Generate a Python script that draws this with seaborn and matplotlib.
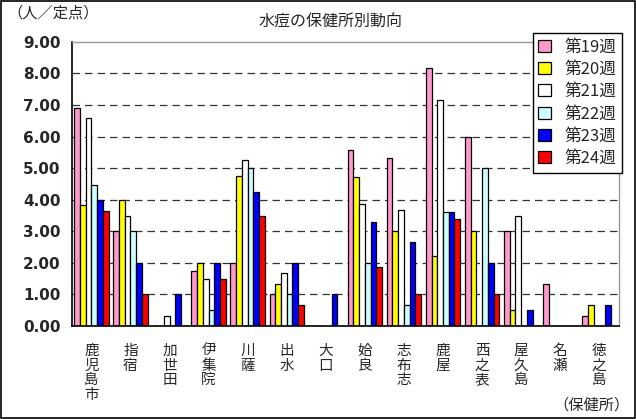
import matplotlib
matplotlib.use('Agg')
import matplotlib.pyplot as plt
import seaborn as sns
import pandas as pd

# data
offices = ['鹿児島市', '指宿', '加世田', '伊集院', '川薩', '出水', '大口',
           '姶良', '志布志', '鹿屋', '西之表', '屋久島', '名瀬', '徳之島']
weeks = ['第19週', '第20週', '第21週', '第22週', '第23週', '第24週']
w19 = [6.90, 3.00, 0.00, 1.75, 2.00, 1.00, 0.00, 5.57, 5.33, 8.17, 6.00, 3.00, 1.33, 0.33]
w20 = [3.83, 4.00, 0.00, 2.00, 4.75, 1.33, 0.00, 4.71, 3.00, 2.22, 3.00, 0.50, 0.00, 0.67]
w21 = [6.60, 3.50, 0.33, 1.50, 5.25, 1.67, 0.00, 3.86, 3.67, 7.17, 0.00, 3.50, 0.00, 0.00]
w22 = [4.47, 3.00, 0.00, 0.50, 5.00, 1.00, 0.00, 2.00, 0.67, 3.61, 5.00, 0.00, 0.00, 0.00]
w23 = [4.00, 2.00, 1.00, 2.00, 4.25, 2.00, 1.00, 3.29, 2.67, 3.61, 2.00, 0.50, 0.00, 0.67]
w24 = [3.63, 1.00, 0.00, 1.50, 3.50, 0.67, 0.00, 1.86, 1.00, 3.39, 1.00, 0.00, 0.00, 0.00]
colors = ['#FF99CC', '#FFFF00', '#FFFFFF', '#CCFFFF', '#0000FF', '#FF0000']

rows = []
for wk, vals in zip(weeks, [w19, w20, w21, w22, w23, w24]):
    for off, v in zip(offices, vals):
        rows.append({'office': off, 'week': wk, 'value': v})
df = pd.DataFrame(rows)

sns.set_style('white')
plt.rcParams['font.family'] = ['Noto Sans CJK JP', 'DejaVu Sans']

fig = plt.figure(figsize=(6.36, 4.19), dpi=100)
ax = fig.add_axes([0.113, 0.222, 0.86, 0.678])

sns.barplot(data=df, x='office', y='value', hue='week', palette=colors, saturation=1,
            edgecolor='black', linewidth=0.9, width=0.88, ax=ax, legend=True)

ax.set_ylim(0, 9)
ax.set_xlim(-0.5, len(offices) - 0.5)
ax.set_yticks(range(10))
ax.set_yticklabels([f'{i:.2f}' for i in range(10)], fontsize=11, fontweight='bold',
                   family='DejaVu Sans')
ax.set_xticks(range(len(offices)))
ax.set_xticklabels(['\n'.join(o) for o in offices], fontsize=10.5, linespacing=1.05,
                   va='top')
ax.tick_params(axis='x', length=0, pad=13)
ax.tick_params(axis='y', length=0, pad=8)
ax.set_xticks([i + 0.5 for i in range(len(offices) - 1)], minor=True)
ax.tick_params(axis='x', which='minor', direction='in', length=4, color='black')
ax.set_xlabel('')
ax.set_ylabel('')

for y in range(1, 9):
    ax.axhline(y, color='#333333', linestyle=(0, (6, 4)), linewidth=0.9, zorder=0)

for s in ['top', 'right']:
    ax.spines[s].set_color('#999999')
    ax.spines[s].set_linewidth(1)
for s in ['left', 'bottom']:
    ax.spines[s].set_color('black')
    ax.spines[s].set_linewidth(1.2)

ax.legend(loc='upper right', bbox_to_anchor=(0.978, 0.922), bbox_transform=fig.transFigure,
          fontsize=12, frameon=True, fancybox=False, edgecolor='black', framealpha=1,
          handlelength=0.75, handleheight=0.75, handletextpad=0.8, labelspacing=0.32,
          borderpad=0.35, borderaxespad=0)

fig.text(0.52, 0.948, '水痘の保健所別動向', ha='center', va='center', fontsize=11.5)
fig.text(0.012, 0.97, '（人／定点）', ha='left', va='center', fontsize=11)
fig.text(0.99, 0.033, '（保健所）', ha='right', va='center', fontsize=11)

fig.patches.append(plt.Rectangle((0.002, 0.002), 0.996, 0.996, transform=fig.transFigure,
                                 fill=False, edgecolor='black', linewidth=1.2))

fig.savefig('out.png', dpi=100)
